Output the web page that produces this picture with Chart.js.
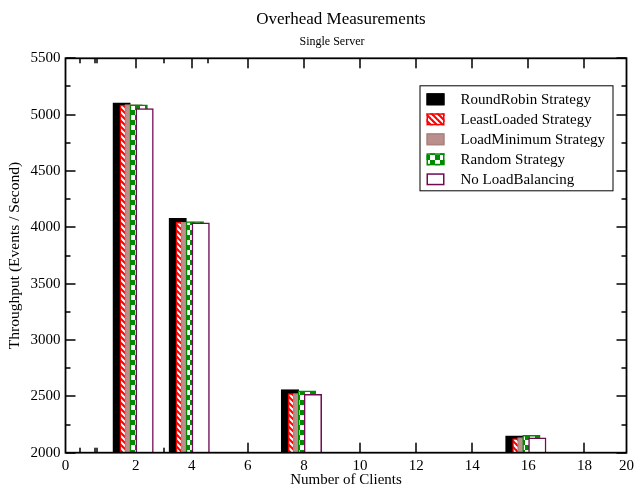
<!DOCTYPE html>
<html>
<head>
<meta charset="utf-8">
<title>Overhead Measurements</title>
<script src="https://cdn.jsdelivr.net/npm/chart.js@4.4.0/dist/chart.umd.min.js"></script>
<style>
  html, body { margin: 0; padding: 0; background: #fff; }
  #wrap { width: 638px; height: 489px; }
</style>
</head>
<body>
<div id="wrap"><canvas id="overheadChart" width="638" height="489"></canvas></div>
<script>
// ============================================
// DATA
// ============================================

const clients = [2, 4, 8, 16];
const seriesNames = [
  'RoundRobin Strategy',
  'LeastLoaded Strategy',
  'LoadMinimum Strategy',
  'Random Strategy',
  'No LoadBalancing'
];
const roundRobin = [5105, 4080, 2560, 2150];
const leastLoaded = [5085, 4045, 2525, 2125];
const loadMinimum = [5090, 4045, 2525, 2135];
const randomStrategy = [5088, 4050, 2550, 2155];
const noLoadBalancing = [5053, 4040, 2518, 2133];

const xTickValues = [-0.5, 2, 4, 6, 8, 10, 12, 14, 16, 18, 19.5];
const xTickLabels = ['0', '2', '4', '6', '8', '10', '12', '14', '16', '18', '20'];
const xMinorTicks = [0, 0.55, 0.63, 3, 4.58];
const yTickValues = [2000, 2500, 3000, 3500, 4000, 4500, 5000, 5500];
const yTickLabels = ['2000', '2500', '3000', '3500', '4000', '4500', '5000', '5500'];
const yMinorTicks = [2250, 2750, 3250, 3750, 4250, 4750, 5250];

// ============================================
// CONFIGURATION
// ============================================

const SERIF = "'Liberation Serif', 'Times New Roman', serif";
const X_MIN = -0.5;
const X_MAX = 19.5;
const Y_MIN = 2000;
const Y_MAX = 5500;
const BAR_OFFSETS = [-0.5, -0.25, -0.07, 0.11, 0.32]; // grace-style dodge
const BAR_WIDTH = 17.5;

// fill patterns
function makeStripes(fg, bg, size) {
  const c = document.createElement('canvas');
  c.width = size; c.height = size;
  const g = c.getContext('2d');
  g.fillStyle = bg;
  g.fillRect(0, 0, size, size);
  g.strokeStyle = fg;
  g.lineWidth = size * 0.36;
  for (let k = -1; k <= 1; k++) {
    g.beginPath();
    g.moveTo(k * size - 1, -1);
    g.lineTo(k * size + size + 1, size + 1);
    g.stroke();
  }
  return g.createPattern(c, 'repeat');
}

function makeChecker(fg, bg, size) {
  const c = document.createElement('canvas');
  c.width = size * 2; c.height = size * 2;
  const g = c.getContext('2d');
  g.fillStyle = bg;
  g.fillRect(0, 0, size * 2, size * 2);
  g.fillStyle = fg;
  g.fillRect(0, 0, size, size);
  g.fillRect(size, size, size, size);
  return g.createPattern(c, 'repeat');
}

const seriesValues = [roundRobin, leastLoaded, loadMinimum, randomStrategy, noLoadBalancing];
const seriesFills = [
  '#000000',
  makeStripes('#ff0000', '#ffffff', 6),
  '#bb908c',
  makeChecker('#008b00', '#ffffff', 5),
  '#ffffff'
];
const seriesBorders = ['#000000', '#ff0000', '#a88480', '#008b00', '#6e0b52'];

// ============================================
// PLUGINS
// ============================================

// title + subtitle above the plot
const headerText = {
  id: 'headerText',
  afterDraw(chart) {
    const c = chart.ctx;
    c.save();
    c.fillStyle = '#000';
    c.textAlign = 'center';
    c.textBaseline = 'alphabetic';
    c.font = '17px ' + SERIF;
    c.fillText('Overhead Measurements', 341, 24);
    c.font = '12px ' + SERIF;
    c.fillText('Single Server', 332, 45);
    c.restore();
  }
};

// inward tick marks on all four sides (drawn under the bars)
const frameTicks = {
  id: 'frameTicks',
  beforeDatasetsDraw(chart) {
    const c = chart.ctx;
    const a = chart.chartArea;
    const xs = chart.scales.x;
    const ys = chart.scales.y;
    c.save();
    c.fillStyle = '#000000';
    const xTick = (v, len) => {
      const px = Math.round(xs.getPixelForValue(v));
      c.fillRect(px - 0.75, a.bottom - len, 1.5, len);
      c.fillRect(px - 0.75, a.top, 1.5, len);
    };
    const yTick = (v, len) => {
      const py = Math.round(ys.getPixelForValue(v));
      c.fillRect(a.left, py - 0.75, len, 1.5);
      c.fillRect(a.right - len, py - 0.75, len, 1.5);
    };
    for (let i = 1; i < xTickValues.length - 1; i++) xTick(xTickValues[i], 10);
    xMinorTicks.forEach(v => xTick(v, 5));
    yTickValues.forEach(v => yTick(v, 10));
    yMinorTicks.forEach(v => yTick(v, 5));
    c.restore();
  },
  afterDatasetsDraw(chart) {
    const c = chart.ctx;
    const a = chart.chartArea;
    c.save();
    c.strokeStyle = '#000';
    c.lineWidth = 1.8;
    c.strokeRect(a.left, a.top, a.right - a.left, a.bottom - a.top);
    c.restore();
  }
};

// boxed legend in the top right corner of the plot
const boxLegend = {
  id: 'boxLegend',
  afterDatasetsDraw(chart) {
    const c = chart.ctx;
    const a = chart.chartArea;
    const left = a.right - 207;
    const top = a.top + 27;
    const width = 193;
    const height = 105;
    c.save();
    c.fillStyle = '#fff';
    c.fillRect(left, top, width, height);
    c.strokeStyle = '#000';
    c.lineWidth = 1;
    c.strokeRect(left + 0.5, top + 0.5, width, height);
    c.font = '15px ' + SERIF;
    c.textBaseline = 'middle';
    chart.data.datasets.forEach((ds, i) => {
      const cy = top + 14 + i * 20;
      c.fillStyle = ds.backgroundColor;
      c.fillRect(left + 7, cy - 6, 18, 12);
      c.strokeStyle = ds.borderColor;
      c.lineWidth = 1.5;
      c.strokeRect(left + 7.75, cy - 5.25, 16.5, 10.5);
      c.fillStyle = '#000';
      c.fillText(ds.label, left + 41, cy + 1);
    });
    c.restore();
  }
};

// ============================================
// CHART
// ============================================

const ctx = document.getElementById('overheadChart').getContext('2d');

new Chart(ctx, {
  type: 'bar',
  data: {
    datasets: seriesNames.map((name, s) => ({
      label: name,
      data: clients.map((cl, i) => ({ x: cl + BAR_OFFSETS[s], y: seriesValues[s][i] })),
      backgroundColor: seriesFills[s],
      borderColor: seriesBorders[s],
      borderWidth: 1.5,
      borderSkipped: 'start',
      barThickness: BAR_WIDTH,
      grouped: false,
      base: Y_MIN,
      order: seriesNames.length - s // first series sits at the back
    }))
  },
  options: {
    responsive: false,
    animation: false,
    devicePixelRatio: 1,
    layout: { padding: { left: 0, right: 10, top: 58.3, bottom: 0 } },
    plugins: {
      legend: { display: false },
      tooltip: { enabled: false },
      title: { display: false }
    },
    scales: {
      x: {
        type: 'linear',
        min: X_MIN,
        max: X_MAX,
        offset: false,
        grid: { display: false, drawTicks: false },
        border: { display: false },
        afterBuildTicks: (scale) => {
          scale.ticks = xTickValues.map(v => ({ value: v }));
        },
        afterFit: (scale) => { scale.height = 36.3; },
        ticks: {
          autoSkip: false,
          maxRotation: 0,
          padding: 4,
          color: '#000',
          font: { family: SERIF, size: 15 },
          callback: (value, index) => xTickLabels[index]
        },
        title: {
          display: true,
          text: 'Number of Clients',
          color: '#000',
          font: { family: SERIF, size: 15 },
          padding: { top: 0, bottom: 0 }
        }
      },
      y: {
        type: 'linear',
        min: Y_MIN,
        max: Y_MAX,
        grid: { display: false, drawTicks: false },
        border: { display: false },
        afterBuildTicks: (scale) => {
          scale.ticks = yTickValues.map(v => ({ value: v }));
        },
        afterFit: (scale) => { scale.width = 65.5; },
        ticks: {
          padding: 5,
          color: '#000',
          font: { family: SERIF, size: 15 },
          callback: (value, index) => yTickLabels[index]
        },
        title: {
          display: true,
          text: 'Throughput (Events / Second)',
          color: '#000',
          font: { family: SERIF, size: 15.5 },
          padding: { top: 6, bottom: 0 }
        }
      }
    }
  },
  plugins: [frameTicks, boxLegend, headerText]
});
</script>
</body>
</html>
